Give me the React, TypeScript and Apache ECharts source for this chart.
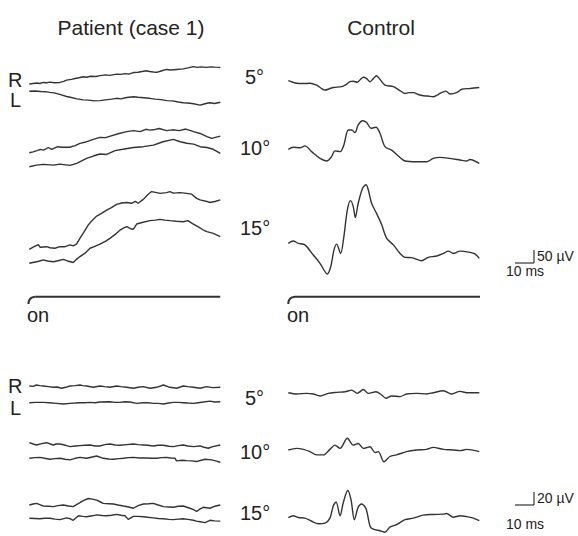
import React, { useEffect, useRef } from "react";
import * as echarts from "echarts";

// ---- Data: [time (ms), amplitude (µV)] ----
// Upper panel (scale 50 µV / 10 ms)
const PAT_A_5_R = [[0,0],[2,2],[4,4],[5.5,2],[7.3,6],[9,5],[11,7],[13,5],[16,6],[18,10],[19.5,15],[22,18],[24,21],[26,24],[28.3,28],[30,26],[32,30],[35,29],[37,32],[40,35],[42,33],[45.7,38],[48,37],[50,40],[52,38],[54.5,44],[57,45],[59,48],[61.4,51],[63,48],[65,46],[66.7,45],[69,50],[71.9,56],[74,54],[77,56],[80.6,58],[83,62],[85.9,67],[88,64],[90,66],[92.8,64],[95,66],[97,65],[100,64]];
const PAT_A_5_L = [[0,0],[3,1],[6,-1],[9,-2],[10.8,-4],[13,-6],[16,-12],[19.5,-20],[22,-24],[25,-29],[28.3,-33],[31,-34],[34,-37],[37,-36],[40,-33],[43,-30],[45.7,-27],[48,-29],[51,-24],[54.5,-21],[57,-23],[60,-25],[63,-27],[66,-30],[69,-32],[72,-36],[75,-37],[78,-41],[80.6,-44],[83,-45],[86,-48],[89.4,-53],[91,-50],[93,-46],[94.6,-44],[97,-47],[100,-42]];
const PAT_A_10_R = [[0,0],[2,3],[4,8],[5.8,13],[7.5,10],[10,20],[11.7,13],[14.8,23],[17,21],[21,21],[24,27],[26.5,36],[29,40],[33.5,51],[37,59],[40,58],[42,63],[47,74],[51,81],[54.5,85],[58,81],[61,90],[63,87],[65,88],[68,93],[71.9,85],[75,88],[78.5,85],[82,91],[86,81],[89.4,74],[93,62],[95.5,55],[98,60],[100,64]];
const PAT_A_10_L = [[0,0],[3.8,6],[7.3,9],[12.6,6],[16,10],[21.3,5],[24.8,13],[30,32],[33.5,41],[37,49],[40.5,47],[44.9,62],[49,67],[54.5,74],[59.7,77],[65,83],[70,96],[75.4,105],[79,96],[82.4,90],[86,87],[89.4,77],[93,74],[96.3,67],[100,51]];
const PAT_A_15_R = [[0,0],[2,8],[4.7,18],[5.6,8],[9.1,10],[10.8,6],[13.4,4],[16,10],[18.7,10],[21.3,17],[23,13],[24.8,21],[26.5,42],[28.5,65],[30.9,94],[33,112],[35.3,128],[38,139],[40.5,151],[43,160],[45.7,173],[48.5,178],[51,180],[53.5,177],[55.5,184],[57,177],[59.7,192],[62,210],[64,222],[66.7,218],[68.4,215],[71.9,218],[73.6,222],[75.4,216],[78.9,218],[82.4,215],[85,212],[87.6,196],[89.4,190],[93,184],[94.6,180],[97.2,184],[100,190]];
const PAT_A_15_L = [[0,0],[2.5,4],[5,8],[7.3,13],[9.5,9],[12.6,6],[15,10],[17.8,15],[20,9],[23,3],[24.5,14],[26.5,26],[29,38],[31.8,58],[34,64],[37,74],[40,85],[42.2,96],[45,111],[47.5,128],[49.5,136],[51,141],[53,133],[54.5,131],[56.2,151],[59,157],[63.2,164],[66,166],[68.4,169],[71,166],[73.6,164],[77,162],[80.6,160],[83,164],[85.9,151],[88.5,140],[91.1,128],[93,122],[96.3,115],[100,103]];
const CTL_A_5 = [[0,0],[2,-5],[4.4,-10],[8,-11],[11.3,-10],[14.8,-17],[17,-28],[19.2,-36],[21.5,-31],[23.6,-26],[27.9,-23],[30,-16],[32.3,-4],[34,-2],[36.1,-6],[37.5,3],[39.3,13],[41,8],[42.8,-4],[44.5,8],[46.2,19],[48,5],[50.6,-17],[55,-23],[58,-36],[61.1,-49],[63,-46],[65.4,-46],[68,-53],[70.7,-58],[73,-59],[75.9,-62],[78,-55],[79.4,-49],[82.5,-40],[84.6,-51],[88.1,-46],[90.8,-33],[95.1,-30],[100,-26]];
const CTL_A_10 = [[0,0],[2.6,8],[6.1,6],[8.7,13],[12.2,-9],[16.6,-35],[20.1,-45],[22.7,-28],[24.4,-6],[27.1,-9],[29.1,17],[31.4,74],[33.2,74],[34.9,64],[36.6,94],[38.9,110],[41,103],[43.3,81],[45.9,85],[48,62],[50.6,10],[54.1,-3],[57.6,-26],[61.1,-45],[67.2,-48],[72.4,-48],[75.9,-35],[79.4,-31],[84.6,-35],[89.9,-41],[93.4,-45],[95.1,-39],[100,-54]];
const CTL_A_15 = [[0,0],[2.6,9],[5.2,0],[8.7,-6],[13.1,-45],[16.6,-77],[20.4,-118],[22.2,-90],[23.9,-26],[25.3,-3],[27.4,-39],[29.1,26],[30.9,128],[32.6,164],[34,141],[35.1,99],[36.6,154],[38.9,212],[40.7,225],[41.9,205],[43.6,154],[46.2,115],[48.9,71],[51.5,19],[55,-6],[58.5,-39],[61.1,-54],[64.6,-55],[69.8,-67],[73.3,-54],[77.7,-49],[81.2,-39],[83.8,-30],[86.4,-39],[89.9,-30],[95.1,-35],[97.7,-41],[100,-58]];

// Lower panel (scale 20 µV / 10 ms)
const PAT_B_5_R = [[0,0],[2,-0.5],[3.8,1.5],[5.5,0.5],[7.3,0],[10,-1],[12.6,-2],[14.5,-1.5],[16.9,-3.5],[19,-2],[21.3,0],[24,0.5],[26.5,1.5],[28,0.5],[30,0],[33.5,-2],[37,0],[39.5,-1],[42.2,-2],[45.7,0],[48,-1],[51,-2],[54.5,-3.5],[57,-2],[59.7,-1],[63.2,-3.5],[66.7,-2],[70.2,1.5],[73.6,-2],[77.1,-3.5],[80.6,0],[83,-1],[85.9,-2],[89.4,-3.5],[92.8,-1],[96,-2.5],[100,-2]];
const PAT_B_5_L = [[0,0],[3.5,0.5],[7.3,0.5],[10.5,0],[14.3,-1],[17.8,-2],[21.3,-1],[24,-0.5],[26.5,0],[29,0],[31.8,0.5],[34.5,0],[37,1],[42.2,1.5],[45,0.5],[47.5,0.5],[50,1.5],[52.7,1],[56.2,-1],[59.7,0],[62,0],[64.9,-1],[67.5,-1],[70.2,-2],[73,-0.5],[75.4,0.5],[78,0.5],[80.6,0],[83,-0.5],[85.9,-1],[88.5,0],[91.1,1],[94.6,2.5],[97,1],[100,1.5]];
const PAT_B_10_R = [[0,0],[2,-2],[3.8,-3.5],[6.5,-1.5],[9.1,0],[11,-2],[12.6,-3.5],[14,-2],[16.1,-2],[19,-4],[21.3,-6],[24,-5],[26.5,-4.5],[29,-4],[31.8,-3.5],[34.5,-5],[37,-5],[39.5,-3],[42.2,-2],[45,-3.5],[47.5,-4],[51,-3],[54.5,-2],[57,-3],[59.7,-3.5],[62,-4],[64.9,-5],[67.5,-4],[70.2,-4],[73,-5.5],[75.4,-6],[78,-4.5],[80.6,-3.5],[83,-5],[85.9,-6],[89.4,-5],[91.5,-7],[93.7,-8.5],[96,-6],[100,-3.5]];
const PAT_B_10_L = [[0,0],[2.8,1],[5.6,1.5],[8,0],[10.8,-1.5],[13.5,-0.5],[16.1,0],[18.7,-1.5],[21.3,-2.5],[24,0],[26.5,1.5],[30,0],[33,2],[35.3,3.5],[38.7,0],[41.5,-1],[44,-1.5],[47,-0.5],[49.2,0],[52,1],[54.5,1.5],[58,0.5],[61.4,0.5],[64,0],[66.7,0],[69,1],[71.9,1.5],[74,0.5],[76.3,0],[77.1,-4],[80,-3],[82.4,-3.5],[85,-4],[87.6,-5],[90,-3],[92,-1.5],[95.5,-2.5],[97.5,-4],[100,-6]];
const PAT_B_15_R = [[0,0],[2,1.5],[3.8,2.5],[5.5,0.5],[7.3,-1.5],[10,-2],[12.6,-2.5],[15,-1],[17.8,0],[20.5,-1.5],[23,-2.5],[26.5,3.5],[28.5,7],[30.9,10],[33,9],[35.3,7.5],[37,5],[38.7,2.5],[41.5,2],[44,1.5],[46.5,0],[49.2,-1.5],[52,-3],[54.5,-5],[57,-1],[59.7,1.5],[62.5,2],[64.9,2.5],[67.5,0],[70.2,-2.5],[73,-3],[75.4,-3.5],[78,-2],[80.6,-1.5],[84.1,-5],[86,-7],[87.6,-10],[89.5,-6],[91.1,-3.5],[94.6,-5],[97,-2],[100,0]];
const PAT_B_15_L = [[0,0],[2.8,-0.5],[5.6,-1],[8,0],[10.8,0],[13.5,-1.5],[16.1,-2.5],[19.5,0.5],[21.5,-1],[23,-3.5],[25.7,4],[28,3],[30,2.5],[33,4],[35.3,5.5],[38,4.5],[40.5,4],[43,5],[45.7,6.5],[48,5],[50.1,4],[51.8,-2],[54.5,3],[57,3],[59.7,2.5],[62,1.5],[64.9,0.5],[67.5,-0.5],[70.2,-1],[73,-2],[75.4,-2.5],[78,-1.5],[80.6,-1],[83,-2],[85.9,-3.5],[87.5,-5],[89.4,-6],[92,-7.5],[94.6,-3.5],[97,-4.5],[100,-5]];
const CTL_B_5 = [[0,0],[4.4,-2],[9.6,-1],[13.1,-2],[16.6,-5],[20.9,-1],[25.3,0.5],[29.7,1.5],[33.2,4],[36.1,-1],[39.3,5],[41.9,-1],[45.9,1.5],[48.9,-3.5],[51.1,-8.5],[54.1,-5],[58.5,-6],[61.9,-2],[67.2,-1],[72.4,-2],[75.9,0],[81.2,3],[85.5,-2],[89.9,2],[93.4,0],[100,0]];
const CTL_B_10 = [[0,0],[4.4,2.5],[7.9,1],[11.3,-2.5],[14.8,-7.5],[18.3,-7.5],[21.8,1],[24.4,7.5],[27.1,2.5],[30.9,18],[34,7.5],[36.6,10],[39.3,2.5],[42.8,5],[45.4,-4],[47.1,-2.5],[50.1,-18],[53.2,-10],[56.7,-7.5],[61.9,-2.5],[67.2,0],[72.4,1],[75.9,4],[81.2,1],[86.4,0],[89.9,-1],[93.4,1],[100,-2.5]];
const CTL_B_15 = [[0,0],[2.6,3],[5.2,0],[8.7,-1],[12.2,-6],[15.7,-10],[19.2,-9],[21.8,-1],[23.6,19.5],[25,25.5],[27.1,3],[28.8,24.5],[31.1,44],[32.8,29.5],[34.6,-3.5],[36.6,17],[38.4,22],[40.7,14.5],[42.8,-14],[44.5,-19],[48,-21.5],[50.6,-24],[53.2,-15.5],[56.7,-11.5],[61.1,-3.5],[65.4,-1],[70.7,4],[75.9,5],[81.2,5.5],[82.9,6.5],[86.4,0.5],[89.9,3],[93.4,1.5],[96.9,-1],[100,-5]];

const ANGLES = ["5°", "10°", "15°"];

export default function App() {
  const ref = useRef<HTMLDivElement>(null);
  useEffect(() => {
    if (!ref.current) return;
    const chart = echarts.init(ref.current, undefined, { renderer: "svg" });

    const TOP_UV_PER_PX = 50 / 13;
    const BOT_UV_PER_PX = 20 / 13;
    const TRACE_W = 191; // 100 ms
    const PAT_X = 29.3;
    const CTL_X = 288.3;
    const traceColor = "#333333";
    const font = "'Liberation Sans', Arial, Helvetica, sans-serif";

    type Tr = { data: number[][]; x: number; base: number; top: boolean; smooth: boolean };
    const traces: Tr[] = [
      { data: PAT_A_5_R, x: PAT_X, base: 84, top: true, smooth: false },
      { data: PAT_A_5_L, x: PAT_X, base: 91.3, top: true, smooth: false },
      { data: PAT_A_10_R, x: PAT_X, base: 152.7, top: true, smooth: false },
      { data: PAT_A_10_L, x: PAT_X, base: 166.7, top: true, smooth: false },
      { data: PAT_A_15_R, x: PAT_X, base: 249.3, top: true, smooth: false },
      { data: PAT_A_15_L, x: PAT_X, base: 263.3, top: true, smooth: false },
      { data: CTL_A_5, x: CTL_X, base: 80.7, top: true, smooth: true },
      { data: CTL_A_10, x: CTL_X, base: 149.3, top: true, smooth: true },
      { data: CTL_A_15, x: CTL_X, base: 243.3, top: true, smooth: true },
      { data: PAT_B_5_R, x: PAT_X, base: 386, top: false, smooth: false },
      { data: PAT_B_5_L, x: PAT_X, base: 402.7, top: false, smooth: false },
      { data: PAT_B_10_R, x: PAT_X, base: 442.7, top: false, smooth: false },
      { data: PAT_B_10_L, x: PAT_X, base: 458.3, top: false, smooth: false },
      { data: PAT_B_15_R, x: PAT_X, base: 505, top: false, smooth: false },
      { data: PAT_B_15_L, x: PAT_X, base: 521, top: false, smooth: false },
      { data: CTL_B_5, x: CTL_X, base: 392.7, top: false, smooth: true },
      { data: CTL_B_10, x: CTL_X, base: 450, top: false, smooth: true },
      { data: CTL_B_15, x: CTL_X, base: 519.3, top: false, smooth: true },
    ];

    const grid: any[] = [];
    const xAxis: any[] = [];
    const yAxis: any[] = [];
    const series: any[] = [];
    traces.forEach((t, i) => {
      const uvpp = t.top ? TOP_UV_PER_PX : BOT_UV_PER_PX;
      const ymax = t.top ? 300 : 50;
      const ymin = t.top ? -300 : -30;
      grid.push({
        left: t.x,
        width: TRACE_W,
        top: t.base - ymax / uvpp,
        height: (ymax - ymin) / uvpp,
        containLabel: false,
      });
      xAxis.push({ type: "value", gridIndex: i, min: 0, max: 100, show: false });
      yAxis.push({ type: "value", gridIndex: i, min: ymin, max: ymax, show: false });
      series.push({
        type: "line",
        xAxisIndex: i,
        yAxisIndex: i,
        data: t.data,
        showSymbol: false,
        symbol: "none",
        smooth: t.smooth ? 0.3 : false,
        clip: false,
        lineStyle: { color: traceColor, width: 1.4 },
      });
    });

    const txt = (text: string, x: number, y: number, size: number, align = "left") => ({
      type: "text",
      x,
      y,
      style: {
        text,
        fill: "#222",
        font: `${size}px ${font}`,
        textAlign: align,
        textVerticalAlign: "middle",
      },
    });
    const ln = (x1: number, y1: number, x2: number, y2: number, w = 1.2) => ({
      type: "line",
      shape: { x1, y1, x2, y2 },
      style: { stroke: traceColor, lineWidth: w },
    });
    const onMarker = (x0: number) => [
      {
        type: "bezierCurve",
        shape: { x1: x0, y1: 304, x2: x0 + 6.7, y2: 296.7, cpx1: x0, cpy1: 297 },
        style: { stroke: traceColor, lineWidth: 2, fill: null },
      },
      ln(x0 + 6.7, 296.7, x0 + 191.7, 296.7, 2),
    ];

    const graphic: any[] = [
      txt("Patient (case 1)", 131, 27, 21, "center"),
      txt("Control", 381, 27, 21, "center"),
      txt("R", 8, 80, 20),
      txt("L", 10, 100, 20),
      txt("R", 8, 386, 20),
      txt("L", 10, 408, 20),
      txt(ANGLES[0], 245, 77, 20),
      txt(ANGLES[1], 240, 148, 20),
      txt(ANGLES[2], 240, 228, 20),
      txt(ANGLES[0], 245, 398, 20),
      txt(ANGLES[1], 240, 452, 20),
      txt(ANGLES[2], 240, 513, 20),
      txt("on", 27, 315, 20),
      txt("on", 287, 315, 20),
      ...onMarker(28.5),
      ...onMarker(288.3),
      // scale bars
      ln(515, 263, 534, 263),
      ln(534, 250, 534, 263),
      txt("50 µV", 537, 256, 14),
      txt("10 ms", 506, 271, 14),
      ln(515, 505, 534, 505),
      ln(534, 492, 534, 505),
      txt("20 µV", 537, 498, 14),
      txt("10 ms", 506, 524, 14),
    ];

    chart.setOption({
      animation: false,
      backgroundColor: "#ffffff",
      grid,
      xAxis,
      yAxis,
      series,
      graphic,
    });
    return () => chart.dispose();
  }, []);
  return (
    <div
      ref={ref}
      style={{ position: "fixed", left: 0, top: 0, width: 578, height: 536 }}
    />
  );
}
